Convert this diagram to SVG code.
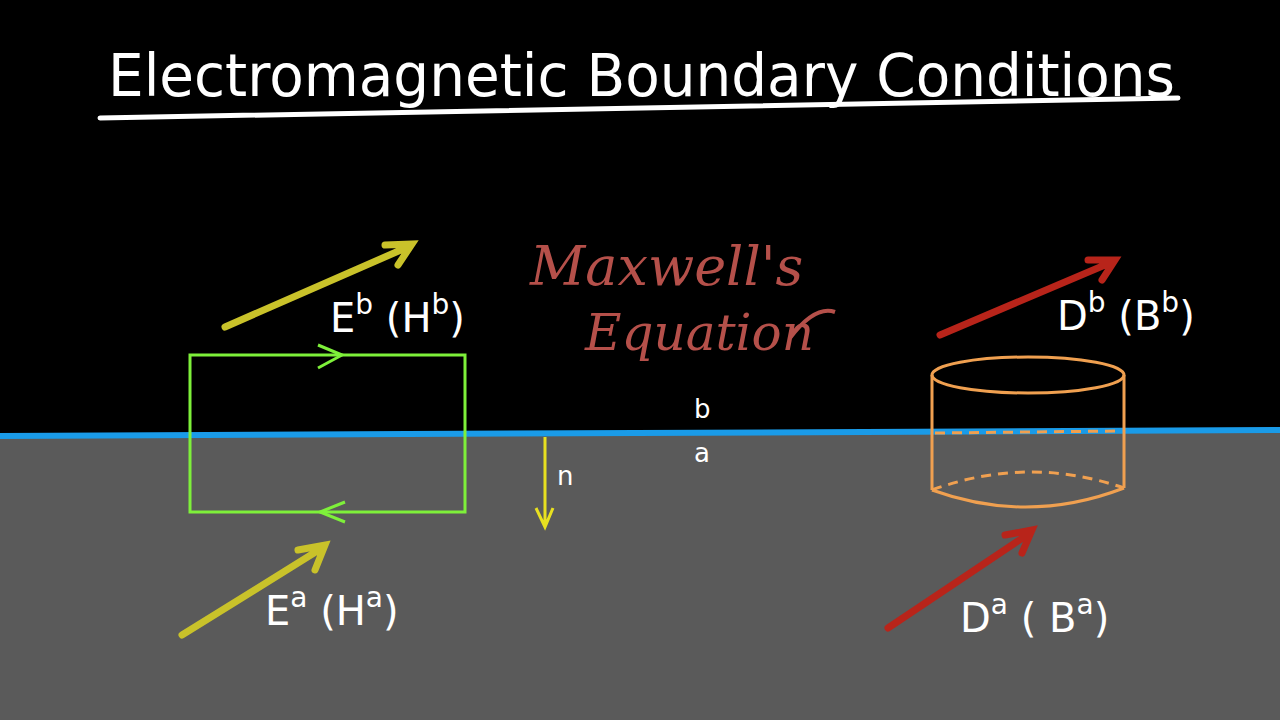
<svg xmlns="http://www.w3.org/2000/svg" width="1280" height="720" viewBox="0 0 1280 720">
<defs><style>
.hand{font-family:"DejaVu Sans",sans-serif;fill:#fff}
.ya{stroke:#c9c22a;stroke-width:7;stroke-linecap:round;fill:none}
.ra{stroke:#b8241a;stroke-width:7;stroke-linecap:round;fill:none}
.or{stroke:#f0a050;stroke-width:3;fill:none}
</style></defs>
<rect width="1280" height="720" fill="#000"/>
<polygon points="0,437 1280,431 1280,720 0,720" fill="#5a5a5a"/>
<path d="M0,436 L1280,430" stroke="#1a9be8" stroke-width="6"/>
<text x="108" y="96" class="hand" font-size="58" textLength="1067" lengthAdjust="spacingAndGlyphs">Electromagnetic Boundary Conditions</text>
<path d="M100,118 Q640,110 1178,98" stroke="#fff" stroke-width="5" fill="none" stroke-linecap="round"/>
<g id="loop">
<rect x="190" y="355" width="275" height="157" fill="none" stroke="#7ef03a" stroke-width="3"/>
<path d="M318,345 L342,355 L318,368" stroke="#7ef03a" stroke-width="3" fill="none"/>
<path d="M345,502 L320,512 L345,522" stroke="#7ef03a" stroke-width="3" fill="none"/>
</g>
<g id="arrows">
<path class="ya" d="M225,327 L410,246 M385,245 L412,244 L398,265"/>
<path class="ya" d="M182,635 L322,548 M298,550 L325,545 L315,570"/>
<path class="ra" d="M940,335 L1112,262 M1088,260 L1115,260 L1102,280"/>
<path class="ra" d="M888,628 L1030,533 M1005,535 L1032,530 L1022,553"/>
<path d="M545,437 L545,525 M536,508 L545,527 L553,508" stroke="#e8e020" stroke-width="3" fill="none"/>
</g>
<text x="330" y="332" class="hand" font-size="40">E<tspan dy="-18" font-size="28">b</tspan><tspan dy="18"> (H</tspan><tspan dy="-18" font-size="28">b</tspan><tspan dy="18">)</tspan></text>
<text x="265" y="625" class="hand" font-size="40">E<tspan dy="-18" font-size="28">a</tspan><tspan dy="18"> (H</tspan><tspan dy="-18" font-size="28">a</tspan><tspan dy="18">)</tspan></text>
<text x="1057" y="330" class="hand" font-size="40">D<tspan dy="-18" font-size="28">b</tspan><tspan dy="18"> (B</tspan><tspan dy="-18" font-size="28">b</tspan><tspan dy="18">)</tspan></text>
<text x="960" y="632" class="hand" font-size="40">D<tspan dy="-18" font-size="28">a</tspan><tspan dy="18"> ( B</tspan><tspan dy="-18" font-size="28">a</tspan><tspan dy="18">)</tspan></text>
<text x="557" y="485" class="hand" font-size="26">n</text>
<text x="694" y="418" class="hand" font-size="26">b</text>
<text x="694" y="462" class="hand" font-size="26">a</text>
<text x="530" y="285" font-family="DejaVu Serif,serif" font-style="italic" font-size="54" fill="#b5504a">Maxwell's</text>
<text x="585" y="350" font-family="DejaVu Serif,serif" font-style="italic" font-size="50" fill="#b5504a">Equation</text>
<path d="M790,338 Q815,305 835,312" stroke="#b5504a" stroke-width="4" fill="none"/>
<g id="cylinder">
<ellipse cx="1028" cy="375" rx="96" ry="18" class="or"/>
<path class="or" d="M932,375 L932,490 M1124,375 L1124,488"/>
<path class="or" d="M932,490 Q1028,525 1124,488"/>
<path class="or" stroke-dasharray="10,7" d="M932,490 Q1028,455 1124,488"/>
<path class="or" stroke-dasharray="10,7" d="M935,433 L1120,431"/>
</g>
</svg>
